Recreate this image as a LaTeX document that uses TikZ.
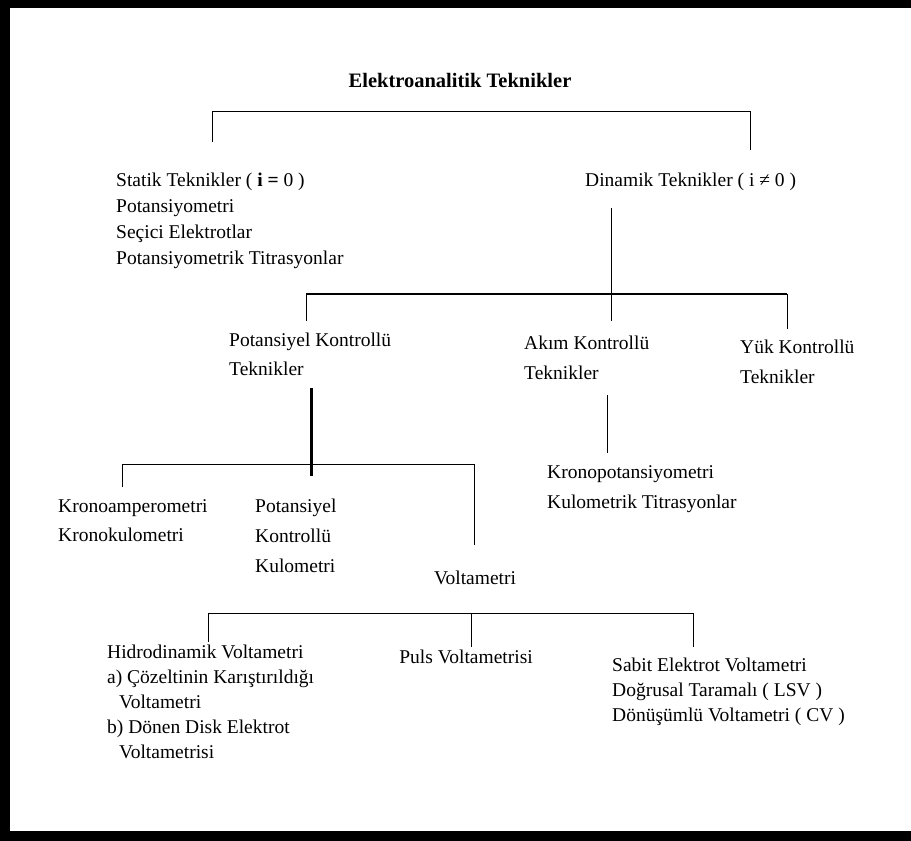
\documentclass[tikz,border=0pt]{standalone}
\usepackage{fontspec}
\setmainfont{Liberation Serif}
\tikzset{
  blk/.style={align=left, inner sep=0pt, anchor=north west, font=\fontsize{19.5}{#1}\selectfont},
  one/.style={inner sep=0pt, anchor=center, font=\fontsize{19.5}{24}\selectfont},
  ttl/.style={inner sep=0pt, anchor=center, font=\bfseries\fontsize{20.5}{24}\selectfont},
  thin/.style={line width=1pt},
  mid/.style={line width=2pt},
  thick3/.style={line width=3pt},
  bar/.style={fill=black}
}
\begin{document}
\begin{tikzpicture}[x=1pt,y=-1pt]
\useasboundingbox (0,0) rectangle (911,841);
\fill[white] (0,0) rectangle (911,841);
% frame
\fill[bar] (0,0) rectangle (911,8);
\fill[bar] (0,0) rectangle (10,841);
\fill[bar] (0,831) rectangle (911,841);

% nodes
\node[ttl] (title) at (460,80) {Elektroanalitik Teknikler};
\node[blk=26] (static) at (116,{180+6-0.7*26}) {\strut Statik Teknikler ( \textbf{i =} 0 )\\Potansiyometri\\Seçici Elektrotlar\\Potansiyometrik Titrasyonlar};
\node[one, anchor=west] (dynamic) at (585,182) {Dinamik Teknikler ( i ≠ 0 )};
\node[blk=29] (pk) at (229,{340+6-0.7*29}) {\strut Potansiyel Kontrollü\\Teknikler};
\node[blk=30] (ak) at (524,{343+6-0.7*30}) {\strut Akım Kontrollü\\Teknikler};
\node[blk=30] (yk) at (740,{347+6-0.7*30}) {\strut Yük Kontrollü\\Teknikler};
\node[blk=29] (kron) at (58,{506+6-0.7*29}) {\strut Kronoamperometri\\Kronokulometri};
\node[blk=30] (pkk) at (255,{506+6-0.7*30}) {\strut Potansiyel\\Kontrollü\\Kulometri};
\node[one] (volt) at (475,578) {Voltametri};
\node[blk=30] (kpot) at (547,{472+6-0.7*30}) {\strut Kronopotansiyometri\\Kulometrik Titrasyonlar};
\node[blk=25] (hidro) at (107,{652+6-0.7*25}) {\strut Hidrodinamik Voltametri\\a) Çözeltinin Karıştırıldığı\\\hspace*{12pt}Voltametri\\b) Dönen Disk Elektrot\\\hspace*{12pt}Voltametrisi};
\node[one] (puls) at (466,657) {Puls Voltametrisi};
\node[blk=25] (sabit) at (612,{665+6-0.7*25}) {\strut Sabit Elektrot Voltametri\\Doğrusal Taramalı ( LSV )\\Dönüşümlü Voltametri ( CV )};

% bracket coordinates
\coordinate (t1) at (212,111);
\coordinate (t2) at (750,111);
\coordinate (t1e) at (212,142);
\coordinate (t2e) at (750,150);
\draw[thin] (t1e) -- (t1) -- (t2) -- (t2e);

\coordinate (d0) at (611,208);
\coordinate (d1) at (611,321);
\draw[thin] (d0) -- (d1);
\coordinate (m1) at (306,294);
\coordinate (m2) at (787,294);
\coordinate (m1e) at (306,321);
\coordinate (m2e) at (787,329);
\draw[mid] (m1) -- (m2);
\draw[thin] (m1) -- (m1e);
\draw[thin] (m2) -- (m2e);

\coordinate (p0) at (311,388);
\coordinate (p1) at (311,476);
\draw[thick3] (p0) -- (p1);
\coordinate (k1) at (122,464);
\coordinate (k2) at (474,464);
\coordinate (k1e) at (122,487);
\coordinate (k2e) at (474,545);
\draw[thin] (k1e) -- (k1) -- (k2) -- (k2e);

\coordinate (a0) at (607,395);
\coordinate (a1) at (607,453);
\draw[thin] (a0) -- (a1);

\coordinate (v1) at (208,613);
\coordinate (v2) at (693,613);
\coordinate (vm) at (471,613);
\coordinate (v1e) at (208,642);
\coordinate (vme) at (471,647);
\coordinate (v2e) at (693,647);
\draw[thin] (v1e) -- (v1) -- (v2) -- (v2e);
\draw[thin] (vm) -- (vme);
\end{tikzpicture}
\end{document}
